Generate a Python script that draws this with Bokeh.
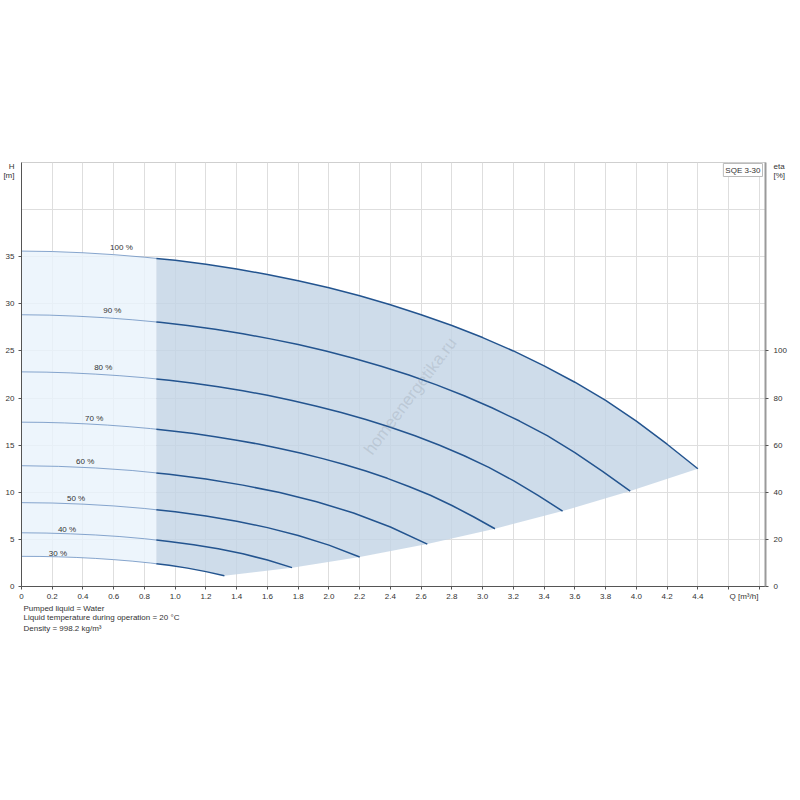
import numpy as np
from bokeh.plotting import figure
from bokeh.models import Range1d, LinearAxis, FixedTicker, Label, NumeralTickFormatter, Title
from bokeh.embed import file_html
from bokeh.resources import INLINE

FONT = "Liberation Sans"

# ---------------- data ----------------
speed_labels = ["100 %", "90 %", "80 %", "70 %", "60 %", "50 %", "40 %", "30 %"]
speed_fracs = [1.0, 0.9, 0.8, 0.7, 0.6, 0.5, 0.4, 0.3]

q_100 = [0, 0.2, 0.4, 0.6, 0.8, 1.0, 1.2, 1.4, 1.6, 1.8, 2.0, 2.2, 2.4, 2.6, 2.8, 3.0,
         3.2, 3.4, 3.6, 3.8, 4.0, 4.2, 4.4]
h_100 = [35.6, 35.55, 35.42, 35.22, 34.95, 34.62, 34.2, 33.7, 33.12, 32.45, 31.7, 30.85,
         29.9, 28.85, 27.7, 26.42, 25.0, 23.42, 21.68, 19.76, 17.55, 15.1, 12.5]

q_90 = [0, 0.18, 0.36, 0.54, 0.72, 0.9, 1.08, 1.26, 1.44, 1.62, 1.8, 1.98, 2.16, 2.34,
        2.52, 2.7, 2.88, 3.06, 3.24, 3.42, 3.6, 3.78, 3.96]
h_90 = [28.84, 28.80, 28.69, 28.53, 28.31, 28.04, 27.70, 27.30, 26.83, 26.28, 25.68, 24.99,
        24.22, 23.37, 22.44, 21.40, 20.25, 18.97, 17.56, 16.01, 14.22, 12.23, 10.13]

q_80 = [0, 0.16, 0.32, 0.48, 0.64, 0.8, 0.96, 1.12, 1.28, 1.44, 1.6, 1.76, 1.92, 2.08,
        2.24, 2.4, 2.56, 2.72, 2.88, 3.04, 3.2, 3.36, 3.52]
h_80 = [22.78, 22.75, 22.67, 22.54, 22.37, 22.16, 21.89, 21.57, 21.20, 20.77, 20.29, 19.74,
        19.14, 18.46, 17.73, 16.91, 16.0, 14.99, 13.88, 12.65, 11.23, 9.66, 8.0]

q_70 = [0, 0.14, 0.28, 0.42, 0.56, 0.7, 0.84, 0.98, 1.12, 1.26, 1.4, 1.54, 1.68, 1.82,
        1.96, 2.1, 2.24, 2.38, 2.52, 2.66, 2.8, 2.94, 3.08]
h_70 = [17.44, 17.42, 17.36, 17.26, 17.13, 16.96, 16.76, 16.51, 16.23, 15.90, 15.53, 15.12,
        14.65, 14.14, 13.57, 12.95, 12.25, 11.48, 10.62, 9.68, 8.60, 7.40, 6.13]

q_60 = [0, 0.24, 0.48, 0.72, 0.96, 1.2, 1.44, 1.68, 1.92, 2.16, 2.4, 2.64]
h_60 = [12.82, 12.75, 12.58, 12.31, 11.92, 11.41, 10.76, 9.97, 9.0, 7.80, 6.32, 4.5]

q_50 = [0, 0.2, 0.4, 0.6, 0.8, 1.0, 1.2, 1.4, 1.6, 1.8, 2.0, 2.2]
h_50 = [8.9, 8.86, 8.74, 8.55, 8.28, 7.93, 7.48, 6.93, 6.25, 5.42, 4.39, 3.13]

q_40 = [0, 0.16, 0.32, 0.48, 0.64, 0.8, 0.96, 1.12, 1.28, 1.44, 1.6, 1.76]
h_40 = [5.70, 5.67, 5.59, 5.47, 5.30, 5.07, 4.78, 4.43, 4.0, 3.47, 2.81, 2.0]

q_30 = [0, 0.12, 0.24, 0.36, 0.48, 0.6, 0.72, 0.84, 0.96, 1.08, 1.2, 1.32]
h_30 = [3.20, 3.19, 3.15, 3.08, 2.98, 2.85, 2.69, 2.49, 2.25, 1.95, 1.58, 1.13]

q_split = 0.877  # boundary between the light and the dark operating region

q_ticks = [0, 0.2, 0.4, 0.6, 0.8, 1.0, 1.2, 1.4, 1.6, 1.8, 2.0, 2.2, 2.4, 2.6, 2.8,
           3.0, 3.2, 3.4, 3.6, 3.8, 4.0, 4.2, 4.4, 4.6, 4.8]
q_labelled = [0, 0.2, 0.4, 0.6, 0.8, 1.0, 1.2, 1.4, 1.6, 1.8, 2.0, 2.2, 2.4, 2.6, 2.8,
              3.0, 3.2, 3.4, 3.6, 3.8, 4.0, 4.2, 4.4]
q_title_pos = 4.7
h_ticks = [0, 5, 10, 15, 20, 25, 30, 35]
h_grid = [0, 5, 10, 15, 20, 25, 30, 35, 40, 45]
h_title_pos = [44.55, 43.6]
eta_ticks = [0, 20, 40, 60, 80, 100]
eta_title_pos = [178.3, 174.5]

footer_lines = ["Pumped liquid = Water",
                "Liquid temperature during operation = 20 °C",
                "Density = 998.2 kg/m³"]

curves = [(q_100, h_100), (q_90, h_90), (q_80, h_80), (q_70, h_70),
          (q_60, h_60), (q_50, h_50), (q_40, h_40), (q_30, h_30)]

# ---------------- figure ----------------
W, H = 792, 650
p = figure(width=W, height=H, output_backend="svg", toolbar_location=None,
           x_range=Range1d(0, 4.84), y_range=Range1d(0, 45),
           min_border_left=21, min_border_right=27, min_border_top=162, min_border_bottom=64,
           background_fill_color="white", border_fill_color="white")
p.extra_y_ranges = {"eta": Range1d(0, 180)}
p.outline_line_color = "#cfcfcf"

LINE = "#23548f"
THIN = "#6a8fc0"


def split(q, h):
    q = np.asarray(q, float)
    h = np.asarray(h, float)
    hs = float(np.interp(q_split, q, h))
    m1 = q < q_split
    m2 = q > q_split
    qa = np.concatenate([q[m1], [q_split]])
    ha = np.concatenate([h[m1], [hs]])
    qb = np.concatenate([[q_split], q[m2]])
    hb = np.concatenate([[hs], h[m2]])
    return qa, ha, qb, hb


parts = [split(q, h) for q, h in curves]

top = parts[0]
bot = parts[-1]
lx = list(top[0]) + list(bot[0][::-1])
ly = list(top[1]) + list(bot[1][::-1])
p.patch(lx, ly, fill_color="#e9f2fb", fill_alpha=0.8, line_color=None)

dx = list(top[2])
dy = list(top[3])
for q, h in curves[1:-1]:
    dx.append(q[-1])
    dy.append(h[-1])
dx += list(bot[2][::-1])
dy += list(bot[3][::-1])
p.patch(dx, dy, fill_color="#c2d3e5", fill_alpha=0.8, line_color=None)

for (qa, ha, qb, hb) in parts:
    p.line(qa, ha, line_color=THIN, line_width=0.8)
    p.line(qb, hb, line_color=LINE, line_width=1.5)

for lab_, s, (q, h) in zip(speed_labels, speed_fracs, curves):
    lq = 0.06 + 0.59 * s
    lh = float(np.interp(lq, q, h))
    p.add_layout(Label(x=lq, y=lh, y_offset=2 + 6 * s, text=lab_, text_align="center",
                       text_baseline="middle", text_font=FONT, text_font_size="8px",
                       text_color="#333333"))

# ---------------- axes & grid ----------------
# visible tick marks are drawn as "minor" ticks; the major ticks only carry labels
xa = p.xaxis[0]
xa.ticker = FixedTicker(ticks=q_labelled + [q_title_pos], minor_ticks=q_ticks)
xa.formatter = NumeralTickFormatter(format="0.0")
xa.major_label_overrides = {0: "0", q_title_pos: "Q [m³/h]"}

ya = p.yaxis[0]
ya.ticker = FixedTicker(ticks=h_ticks + h_title_pos, minor_ticks=h_ticks)
ya.major_label_overrides = {h_title_pos[0]: "H", h_title_pos[1]: "[m]"}

ra = LinearAxis(y_range_name="eta", ticker=FixedTicker(ticks=eta_ticks + eta_title_pos,
                                                       minor_ticks=eta_ticks))
ra.major_label_overrides = {eta_title_pos[0]: "eta", eta_title_pos[1]: "[%]"}
p.add_layout(ra, "right")

for ax in (xa, ya, ra):
    ax.axis_line_color = "#555555"
    ax.major_tick_line_color = None
    ax.major_tick_out = 0
    ax.major_tick_in = 0
    ax.minor_tick_line_color = "#555555"
    ax.minor_tick_out = 3
    ax.minor_tick_in = 0
    ax.major_label_text_font = FONT
    ax.major_label_text_font_size = "8px"
    ax.major_label_text_color = "#333333"
xa.major_label_standoff = 2
ya.major_label_standoff = 4
ra.major_label_standoff = 5
ra.axis_line_color = "#9a9a9a"
ra.axis_line_width = 2

p.xgrid.ticker = FixedTicker(ticks=q_ticks)
p.ygrid.ticker = FixedTicker(ticks=h_grid)
for g in (p.xgrid[0], p.ygrid[0]):
    g.grid_line_color = "#dedede"
    g.grid_line_width = 1

p.add_layout(Label(x=4.84, y=45, x_offset=-3, y_offset=-1, text="SQE 3-30", text_align="right",
                   text_baseline="top", text_font=FONT, text_font_size="8px",
                   text_color="#333333", border_line_color="#bbbbbb",
                   background_fill_color="white", padding=2))

for i, t in enumerate(footer_lines):
    p.add_layout(Title(text=t, align="left", text_font=FONT, text_font_size="8px",
                       text_font_style="normal", text_color="#333333",
                       standoff=-4 if i == 0 else 0, offset=2), "below")

p.add_layout(Label(x=2.53, y=20.2, text="homeenergetika.ru", angle=53, angle_units="deg",
                   text_align="center", text_baseline="middle", text_font=FONT,
                   text_font_size="17px", text_color="#8f9aa6", text_alpha=0.3))

open("out.html", "w").write(file_html(p, INLINE))
